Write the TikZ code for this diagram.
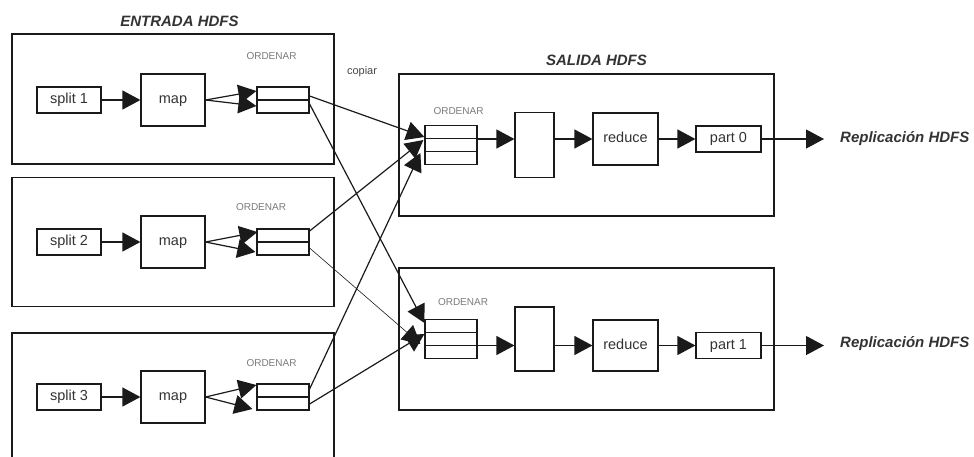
\documentclass[tikz,border=0pt]{standalone}
\usepackage{fontspec}
\setmainfont{Liberation Sans}
\usetikzlibrary{arrows.meta,calc}
\definecolor{ink}{HTML}{1A1A1A}
\definecolor{txt}{HTML}{333333}
\definecolor{lbl}{HTML}{7A7A7A}

\begin{document}
\begin{tikzpicture}[x=1pt,y=-1pt,
  frame/.style={draw=ink, line width=1.2pt, inner sep=0pt},
  blk/.style={draw=ink, line width=1.2pt, inner sep=0pt, text=txt,
    text height=10.5pt, text depth=3pt,
    font=\fontsize{14.5}{16}\selectfont},
  tag/.style={text=lbl, inner sep=0pt, font=\fontsize{10}{12}\selectfont},
  note/.style={text=txt!90, inner sep=0pt, font=\fontsize{11}{13}\selectfont},
  title/.style={text=txt, inner sep=0pt,
    font=\fontsize{15}{17}\selectfont\bfseries\itshape},
  rule/.style={draw=ink, line width=1.2pt},
  flow/.style={draw=ink, line width=1.2pt,
    -{Triangle[length=18pt,width=19pt]}},
  thinflow/.style={flow, line width=0.6pt}
]
\useasboundingbox (0,0) rectangle (974,456);
\clip (0,0) rectangle (974,456);

% ---------- map side ----------
\node[title] (tin) at (179.5,21) {ENTRADA HDFS};
\node[frame, minimum width=322, minimum height=130] (in1) at (173,99) {};
\node[frame, minimum width=322, minimum height=129] (in2) at (173,242) {};
\node[frame, minimum width=322, minimum height=137] (in3) at (173,401.5) {};

\foreach \i/\y in {1/100, 2/242, 3/397} {
  \node[blk, minimum width=64, minimum height=26] (split\i) at (69,\y) {split \i};
  \node[blk, minimum width=64, minimum height=52] (map\i) at (173,\y) {map};
  \node[blk, minimum width=52, minimum height=26] (buf\i) at (283,\y) {};
  \draw[rule] (buf\i.west) -- (buf\i.east);
  \draw[flow] (split\i) -- (map\i);
}
\node[tag] (ord1) at (271.5,56) {ORDENAR};
\node[tag] (ord2) at (261,207) {ORDENAR};
\node[tag] (ord3) at (271.5,363) {ORDENAR};

% map outputs into the sort buffers
\draw[flow] (map1.east) -- ($(buf1.west)+(0,-9)$);
\draw[flow] (map1.east) -- ($(buf1.west)+(0,6)$);
\draw[flow] (map2.east) -- ($(buf2.west)+(1,-10)$);
\draw[flow] (map2.east) -- ($(buf2.west)+(-1,10)$);
\draw[flow] (map3.east) -- ($(buf3.west)+(0,-12)$);
\draw[flow] (map3.east) -- ($(buf3.west)+(-4,12)$);

\node[note] (copy) at (362,72) {copiar};

% ---------- reduce side ----------
\node[title] (tout) at (596.5,60) {SALIDA HDFS};
\node[frame, minimum width=375, minimum height=142] (outA) at (586.5,145) {};
\node[frame, minimum width=375, minimum height=142] (outB) at (586.5,339) {};

\node[tag] (ordA) at (458.5,111) {ORDENAR};
\node[tag] (ordB) at (463,302) {ORDENAR};

\node[blk, minimum width=52, minimum height=39] (bufA) at (451,145) {};
\node[blk, minimum width=52, minimum height=39] (bufB) at (451,339) {};
\foreach \b in {bufA, bufB} {
  \draw[rule] ($(\b.north west)!1/3!(\b.south west)$) -- ($(\b.north east)!1/3!(\b.south east)$);
  \draw[rule] ($(\b.north west)!2/3!(\b.south west)$) -- ($(\b.north east)!2/3!(\b.south east)$);
}

\node[blk, minimum width=39, minimum height=65] (blankA) at (534.5,145) {};
\node[blk, minimum width=65, minimum height=52] (reduceA) at (625.5,139) {reduce};
\node[blk, minimum width=65, minimum height=26] (part0) at (728.5,139) {part 0};

\node[blk, minimum width=39, minimum height=64] (blankB) at (534.5,339) {};
\node[blk, minimum width=65, minimum height=51] (reduceB) at (625.5,345.5) {reduce};
\node[blk, minimum width=65, minimum height=26] (part1) at (728.5,345.5) {part 1};

\coordinate (endA) at (824,139);
\coordinate (endB) at (824,345.5);
\node[title, anchor=west] (repA) at (840,139) {Replicación HDFS};
\node[title, anchor=west] (repB) at (840,344) {Replicación HDFS};

\draw[flow] (bufA.east |- reduceA.center) -- (blankA.west |- reduceA.center);
\draw[flow] (blankA.east |- reduceA.center) -- (reduceA.west);
\draw[flow] (reduceA.east) -- (part0.west);
\draw[flow] (part0.east) -- (endA);

\draw[flow] (bufB.east |- reduceB.center) -- (blankB.west |- reduceB.center);
\draw[flow] (blankB.east |- reduceB.center) -- (reduceB.west);
\draw[flow] (reduceB.east) -- (part1.west);
\draw[flow] (part1.east) -- (endB);

% ---------- shuffle (copy) ----------
\draw[flow] ($(buf1.east)+(0,-4)$) -- ($(bufA.west)+(0,-8)$);
\draw[flow] ($(buf1.east)+(0,4)$) -- ($(bufB.west)+(0,-16)$);
\draw[flow] ($(buf2.east)+(0,-11)$) -- ($(bufA.west)+(-1,-5)$);
\draw[thinflow] ($(buf2.east)+(0,6)$) -- ($(bufB.west)+(-4,5)$);
\draw[flow] ($(buf3.east)+(0,-8)$) -- ($(bufA.west)+(-4,8)$);
\draw[flow] ($(buf3.east)+(0,7)$) -- ($(bufB.west)+(0,-5)$);
\end{tikzpicture}
\end{document}
